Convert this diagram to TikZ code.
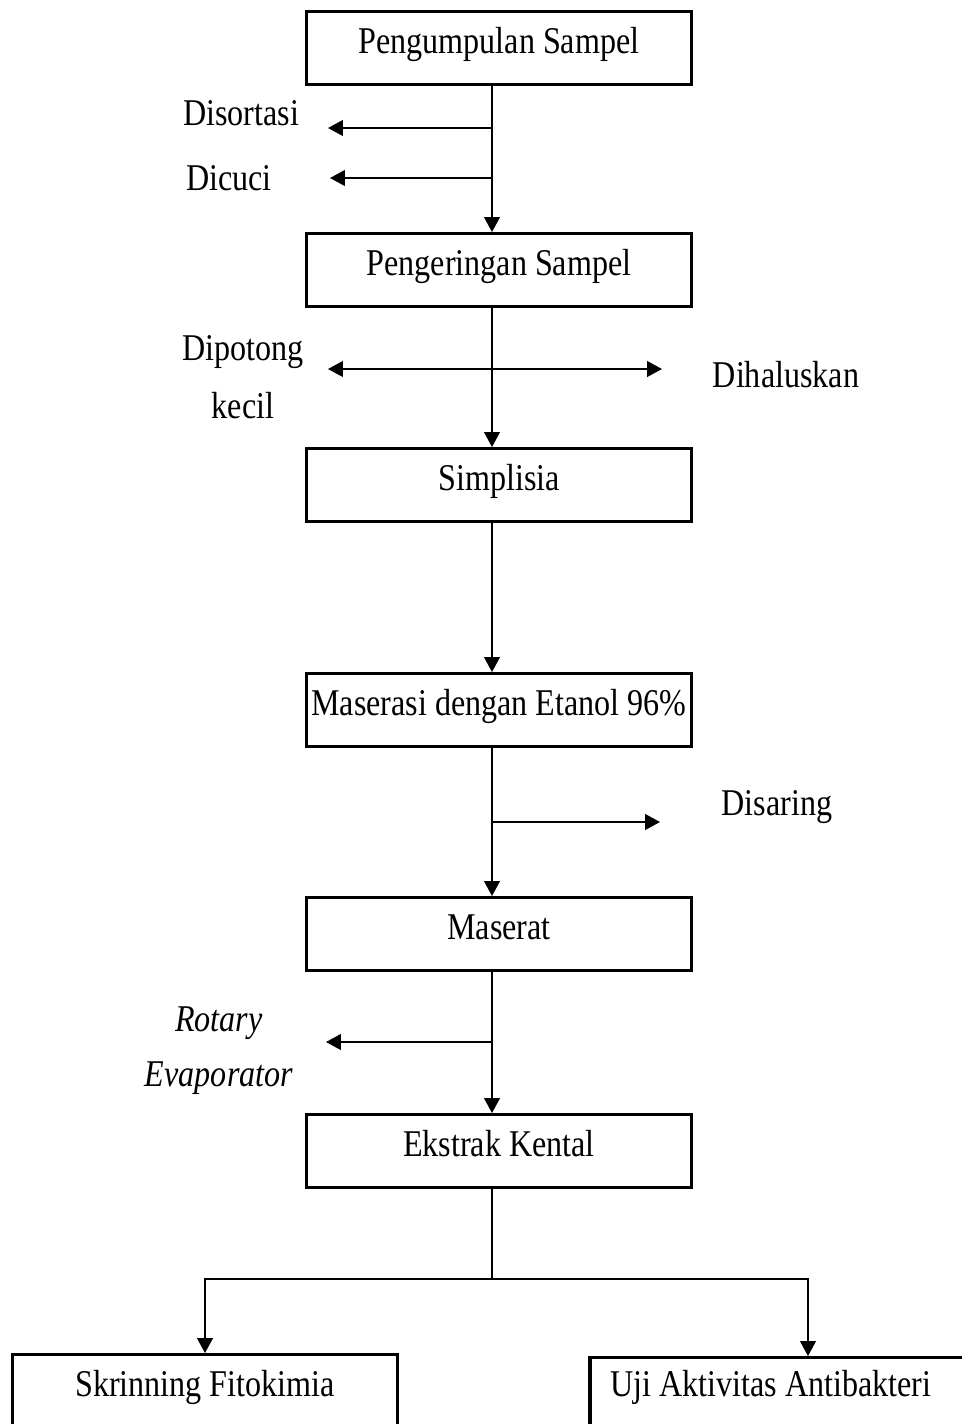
\documentclass[tikz,border=0pt]{standalone}
\usepackage{fontspec}
\setmainfont{Liberation Serif}[FakeStretch=0.85]
\usetikzlibrary{arrows.meta}
\tikzset{
    box/.style={draw, line width=1.9pt, anchor=north, minimum width=7.7cm,
        text height=0.52cm, text depth=0.30cm, inner ysep=0.32cm, inner xsep=0pt},
    arr/.style={-{Triangle[length=8.5pt,width=9pt]}, line width=0.9pt},
    arrboth/.style={{Triangle[length=8.5pt,width=9pt]}-{Triangle[length=8.5pt,width=9pt]}, line width=0.9pt},
}
\begin{document}
\begin{tikzpicture}[x=0.02cm,y=-0.02cm,font=\fontsize{21.5}{25}\selectfont]
    \useasboundingbox (0,0) rectangle (962,1424);
    \coordinate (trunk) at (492,0);
    \node[box] (pengumpulan) at (499,10) {Pengumpulan Sampel};
    \node[box] (pengeringan) at (499,232) {Pengeringan Sampel};
    \node[box] (simplisia) at (499,447) {Simplisia};
    \node[box] (maserasi) at (499,672) {Maserasi dengan Etanol 96\%};
    \node[box] (maserat) at (499,896) {Maserat};
    \node[box] (ekstrak) at (499,1113) {Ekstrak Kental};
    \node[box, text height=0.52cm, text depth=1.5cm] (skrining) at (205,1353) {Skrinning Fitokimia};
    \node[box, text height=0.46cm, text depth=1.5cm, minimum width=7.8cm] (uji) at (785,1356)
        {\hspace*{-0.56cm}Uji Aktivitas Antibakteri};

    \node (disortasi) at (241,113) {Disortasi};
    \node (dicuci) at (229,178) {Dicuci};
    \node (dipotong) at (243,352) {Dipotong};
    \node (kecil) at (243,406) {kecil};
    \node (dihaluskan) at (786,375) {Dihaluskan};
    \node (disaring) at (777,807) {Disaring};
    \node (rotary) at (219,1023) {\itshape Rotary};
    \node (evaporator) at (219,1078) {\itshape Evaporator};

    \coordinate (c-disortasi) at (328,128);
    \coordinate (c-dicuci) at (330,178);
    \coordinate (c-potong) at (328,369);
    \coordinate (c-halus) at (662,369);
    \coordinate (c-saring) at (660,822);
    \coordinate (c-rotary) at (326,1042);
    \coordinate (split) at (492,1279);

    \draw[arr] (pengumpulan.south -| trunk) -- (pengeringan.north -| trunk);
    \draw[arr] (c-disortasi -| trunk) -- (c-disortasi);
    \draw[arr] (c-dicuci -| trunk) -- (c-dicuci);
    \draw[arr] (pengeringan.south -| trunk) -- (simplisia.north -| trunk);
    \draw[arrboth] (c-potong) -- (c-halus);
    \draw[arr] (simplisia.south -| trunk) -- (maserasi.north -| trunk);
    \draw[arr] (maserasi.south -| trunk) -- (maserat.north -| trunk);
    \draw[arr] (c-saring -| trunk) -- (c-saring);
    \draw[arr] (maserat.south -| trunk) -- (ekstrak.north -| trunk);
    \draw[arr] (c-rotary -| trunk) -- (c-rotary);
    \draw[line width=0.9pt] (ekstrak.south -| trunk) -- (split);
    \draw[arr] (split) -| (skrining.north);
    \draw[arr] (split) -| ([xshift=0.46cm]uji.north);
\end{tikzpicture}
\end{document}
